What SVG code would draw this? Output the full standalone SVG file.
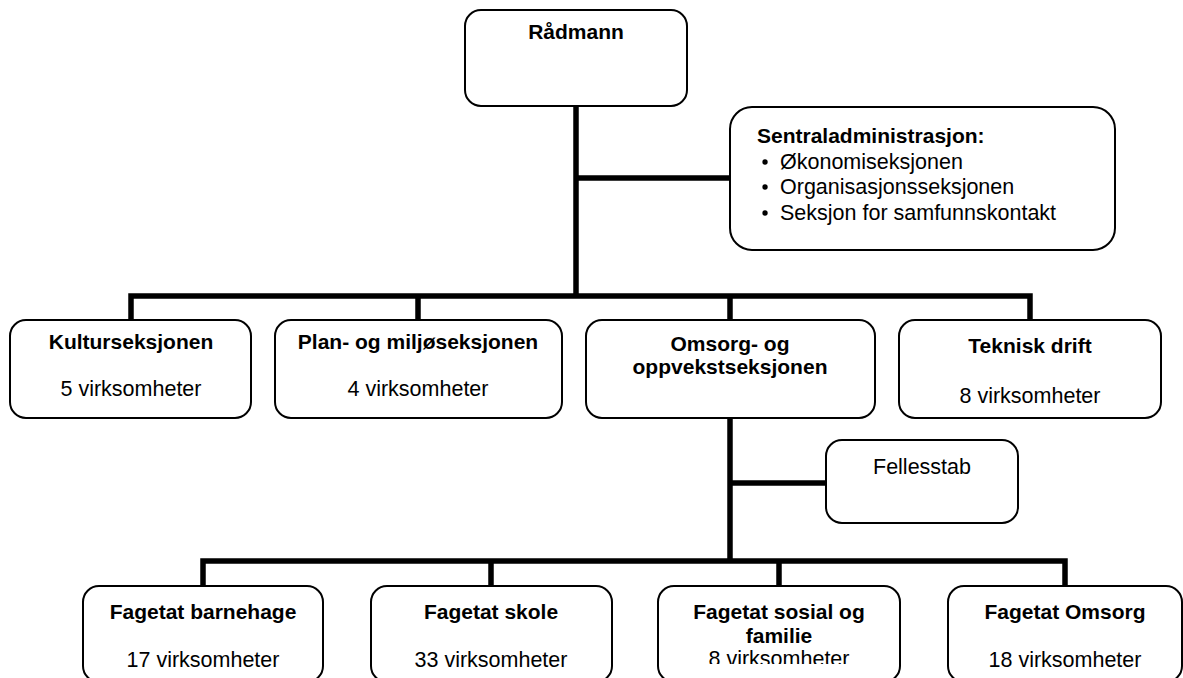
<svg xmlns="http://www.w3.org/2000/svg" width="1183" height="678" viewBox="0 0 1183 678">
<style>
.box{fill:#fff;stroke:#000;stroke-width:2}
.ln{stroke:#000;stroke-width:5.5;fill:none;stroke-linecap:square}
text{font-family:"Liberation Sans",Arial,sans-serif;font-size:21.5px;fill:#000}
.b{font-weight:bold;font-size:21px}
.c{text-anchor:middle}
</style>
<defs>
<clipPath id="clipSosial"><rect x="658" y="586" width="242" height="78"/></clipPath>
</defs>
<rect width="1183" height="678" fill="#fff"/>
<g id="connectors">
<path class="ln" d="M576 106V296M576 178H730M131 296H1030M131 296V320M418 296V320M730 296V320M1030 296V320M730 418V561M730 483H826M203 561H1065M203 561V586M491 561V586M779 561V586M1065 561V586"/>
</g>
<g id="radmann">
<rect class="box" x="465" y="10" width="222" height="96" rx="16"/>
<text class="b c" x="576" y="39">Rådmann</text>
</g>
<g id="sentraladm">
<rect class="box" x="730" y="107" width="385" height="143" rx="22"/>
<text class="b" x="757" y="143">Sentraladministrasjon:</text>
<circle cx="765" cy="162" r="2.7"/>
<circle cx="765" cy="187" r="2.7"/>
<circle cx="765" cy="213" r="2.7"/>
<text x="780" y="169">Økonomiseksjonen</text>
<text x="780" y="194">Organisasjonsseksjonen</text>
<text x="780" y="220">Seksjon for samfunnskontakt</text>
</g>
<g id="kultur">
<rect class="box" x="10" y="320" width="241" height="98" rx="16"/>
<text class="b c" x="131" y="349">Kulturseksjonen</text>
<text class="c" x="131" y="396">5 virksomheter</text>
</g>
<g id="plan">
<rect class="box" x="275" y="320" width="287" height="98" rx="16"/>
<text class="b c" x="418" y="349">Plan- og miljøseksjonen</text>
<text class="c" x="418" y="396">4 virksomheter</text>
</g>
<g id="omsorg">
<rect class="box" x="586" y="320" width="289" height="98" rx="16"/>
<text class="b c" x="730" y="351">Omsorg- og</text>
<text class="b c" x="730" y="374">oppvekstseksjonen</text>
</g>
<g id="teknisk">
<rect class="box" x="899" y="320" width="262" height="98" rx="16"/>
<text class="b c" x="1030" y="353">Teknisk drift</text>
<text class="c" x="1030" y="403">8 virksomheter</text>
</g>
<g id="fellesstab">
<rect class="box" x="826" y="440" width="192" height="83" rx="16"/>
<text class="c" x="922" y="474">Fellesstab</text>
</g>
<g id="barnehage">
<rect class="box" x="83" y="586" width="240" height="96" rx="16"/>
<text class="b c" x="203" y="619">Fagetat barnehage</text>
<text class="c" x="203" y="667">17 virksomheter</text>
</g>
<g id="skole">
<rect class="box" x="371" y="586" width="241" height="96" rx="16"/>
<text class="b c" x="491" y="619">Fagetat skole</text>
<text class="c" x="491" y="667">33 virksomheter</text>
</g>
<g id="sosial">
<rect class="box" x="658" y="586" width="242" height="96" rx="16"/>
<text class="b c" x="779" y="619">Fagetat sosial og</text>
<text class="b c" x="779" y="643">familie</text>
<text class="c" x="779" y="666" clip-path="url(#clipSosial)">8 virksomheter</text>
</g>
<g id="omsorgfag">
<rect class="box" x="948" y="586" width="234" height="96" rx="16"/>
<text class="b c" x="1065" y="619">Fagetat Omsorg</text>
<text class="c" x="1065" y="667">18 virksomheter</text>
</g>
</svg>
